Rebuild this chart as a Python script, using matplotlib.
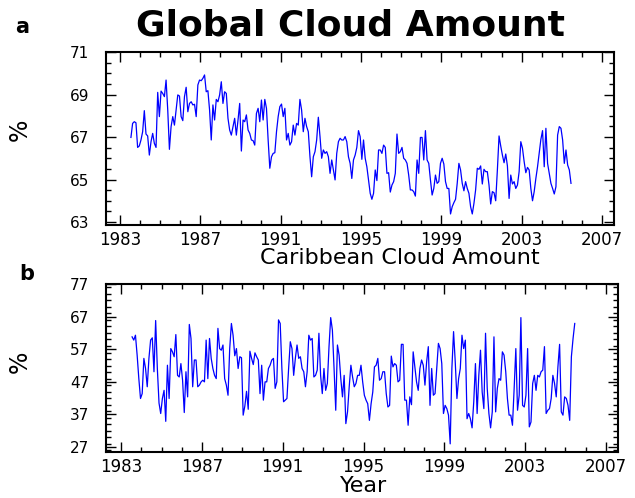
import numpy as np
import matplotlib.pyplot as plt
from matplotlib.ticker import MultipleLocator

# monthly means, July 1983 - June 2005
global_cloud = [
    66.98, 67.64, 67.72, 67.67, 66.51, 66.58, 66.86, 67.25, 68.24, 67.14,
    67.05, 66.15, 66.78, 67.17, 66.70, 66.51, 69.10, 67.96, 69.16, 69.05,
    68.90, 69.68, 68.27, 66.42, 67.49, 67.96, 67.56, 68.27, 68.98, 68.93,
    67.96, 67.77, 68.90, 69.34, 68.19, 68.58, 68.66, 68.51, 68.54, 67.96,
    69.45, 69.68, 69.65, 69.76, 69.92, 69.13, 69.18, 68.27, 66.86, 68.51,
    67.80, 68.77, 68.66, 68.98, 69.60, 68.58, 69.13, 69.05, 67.88, 67.33,
    67.09, 67.49, 67.88, 67.09, 67.80, 68.58, 66.34, 67.80, 67.72, 68.04,
    67.33, 67.17, 66.86, 66.83, 66.62, 68.11, 68.35, 67.72, 68.74, 67.80,
    68.77, 68.35, 66.86, 65.53,
    66.07, 66.23, 66.26, 67.25, 67.96, 68.43, 68.55, 67.96, 68.35, 66.86,
    67.17, 66.62, 66.78, 67.56, 67.09, 67.64, 67.56, 68.77, 68.27, 67.25,
    67.88, 67.49, 67.25, 66.07, 65.13, 66.07, 66.31, 66.86, 67.93, 67.02,
    66.00, 66.39, 66.23, 66.31, 66.07, 65.29, 65.92, 65.45, 64.98, 66.23,
    66.78, 66.94, 66.86, 66.86, 67.02, 66.78, 66.07, 65.76, 65.05, 65.92,
    66.15, 66.51, 67.30, 67.02, 65.95, 66.86, 66.00, 65.60, 64.98, 64.35,
    64.07, 64.35, 65.45, 64.95, 66.39, 66.39, 66.23, 66.62, 66.51, 65.29,
    65.32, 64.41, 64.74, 64.90, 65.29, 67.14, 66.23, 66.31, 66.51, 66.00,
    65.92, 65.76, 65.21, 64.51, 64.51, 64.43, 64.22, 65.92, 65.29, 66.98,
    66.98, 65.92, 67.30, 65.92, 65.76, 64.98, 64.27, 64.58, 65.21, 64.82,
    64.90, 65.76,
    66.00, 65.73, 64.90, 64.58, 64.58, 63.38, 63.72, 63.91, 64.07, 64.82,
    65.76, 65.45, 64.82, 64.47, 64.90, 64.58, 64.35, 63.72, 63.38, 63.88,
    64.51, 65.53, 65.48, 65.64, 64.79, 65.48, 65.37, 65.37, 64.74, 63.85,
    64.43, 64.38, 64.00, 65.45, 67.05, 66.58, 66.15, 65.79, 66.20, 65.64,
    64.11, 65.21, 64.79, 64.90, 64.58, 64.74, 65.37, 66.78, 66.47, 65.84,
    65.32, 65.57, 65.45, 64.58, 64.00, 64.43, 65.05, 65.60, 66.23, 66.89,
    67.30, 65.60, 67.41, 65.76, 65.29, 64.82, 64.58, 64.32, 64.66, 67.09,
    67.49, 67.41, 66.86, 65.76, 66.39, 65.68, 65.45, 64.82,
]

caribbean_cloud = [
    60.8, 59.8, 61.3, 55.2, 48.0, 41.9, 43.4, 54.2, 51.1, 45.5,
    54.2, 59.8, 60.5, 50.1, 65.8, 51.1, 40.5, 37.3, 41.9, 44.4,
    34.9, 52.1, 41.9, 57.2, 56.2, 54.7, 61.5, 49.0, 48.5, 52.6,
    47.5, 37.6, 50.1, 42.4, 64.6, 60.3, 45.5, 53.7, 53.7, 45.5,
    46.0, 47.0, 47.5, 47.0, 59.8, 48.0, 60.3, 54.2, 51.1, 49.0,
    48.0, 63.4, 57.2, 56.7, 58.3, 48.0, 46.0, 42.9, 57.2, 64.9,
    61.3, 55.0, 57.2, 51.1, 54.7, 54.4, 36.8, 39.6, 44.1, 38.6,
    56.4, 54.2, 52.3, 55.9, 54.7, 53.7, 43.4, 52.1, 41.4, 47.0,
    47.0, 51.1, 52.1,
    53.7, 54.2, 45.0, 47.0, 66.0, 64.9, 51.1, 40.9, 41.4, 41.9,
    51.1, 59.3, 57.2, 49.0, 54.2, 58.3, 54.2, 54.7, 51.1, 50.1,
    45.5, 50.1, 61.3, 59.8, 60.3, 48.5, 49.0, 50.6, 61.9, 49.0,
    43.4, 51.1, 44.4, 46.5, 57.8, 66.7, 62.9, 51.1, 38.3, 58.3,
    55.2, 48.0, 42.4, 49.0, 34.2, 37.8, 45.5, 52.1, 48.5, 45.5,
    46.5, 49.0, 49.0, 52.1, 47.0, 42.9, 41.4, 40.3, 35.2, 40.3,
    43.9, 51.6, 52.1, 54.2, 47.5, 48.0, 50.1, 50.1, 43.4, 39.3,
    39.8, 54.9, 51.6, 52.6, 52.1, 47.0, 47.5, 58.5, 58.5, 41.4,
    41.4, 33.7, 42.4, 40.0, 56.2, 51.6, 47.0, 44.4, 51.1, 53.7,
    52.1, 46.0, 53.1, 57.8, 39.8, 51.1, 42.9, 43.4, 51.1, 58.8,
    57.2, 52.6,
    37.3, 39.8, 38.8, 36.8, 28.0, 51.1, 62.4, 53.1, 41.9, 48.0,
    51.1, 61.3, 57.2, 59.8, 35.7, 37.3, 35.7, 32.9, 40.9, 52.6,
    37.3, 49.0, 56.7, 43.9, 38.8, 61.9, 45.0, 37.3, 32.9, 37.8,
    60.8, 37.8, 45.0, 48.0, 47.5, 56.2, 55.2, 50.1, 41.9, 36.8,
    36.8, 33.7, 45.0, 57.2, 38.3, 42.9, 66.7, 39.8, 39.3, 42.9,
    57.2, 33.2, 34.7, 46.5, 49.0, 44.4, 49.0, 48.5, 50.1, 50.6,
    57.8, 37.3, 38.3, 38.8, 41.9, 49.0, 46.5, 42.4, 51.6, 58.5,
    37.8, 36.8, 42.4, 41.9, 39.8, 35.2, 54.7, 60.3, 64.9,
]

year_ticks = [1983, 1987, 1991, 1995, 1999, 2003, 2007]
global_yticks = [63, 65, 67, 69, 71]
carib_yticks = [27, 37, 47, 57, 67, 77]

# time axis: mid-month, starting July 1983
t_global = 1983 + (6.5 + np.arange(len(global_cloud))) / 12
t_carib = 1983 + (6.5 + np.arange(len(caribbean_cloud))) / 12

W, H = 635, 498
fig = plt.figure(figsize=(W / 100, H / 100), dpi=100)

def px(x, y):
    return x / W, 1 - y / H

def style(ax, yticks, yminor):
    ax.set_xticks(year_ticks)
    ax.set_yticks(yticks)
    ax.xaxis.set_minor_locator(MultipleLocator(1))
    ax.yaxis.set_minor_locator(MultipleLocator(yminor))
    ax.tick_params(which="both", direction="in", top=True, right=True, width=1)
    ax.tick_params(which="major", length=7)
    ax.tick_params(which="minor", length=3.5)
    ax.tick_params(axis="x", labelsize=12, pad=4)
    ax.tick_params(axis="y", labelsize=11, pad=12)
    for s in ax.spines.values():
        s.set_linewidth(1.5)

ax1 = fig.add_axes([106 / W, 1 - 225 / H, (614 - 106) / W, (225 - 52) / H])
ax1.plot(t_global, global_cloud, color="#0000ff", lw=0.9)
ax1.set_xlim(1982.3, 2007.6)
ax1.set_ylim(62.86, 71)
style(ax1, global_yticks, 0.5)

ax2 = fig.add_axes([106 / W, 1 - 452 / H, (618 - 106) / W, (452 - 284) / H])
ax2.plot(t_carib, caribbean_cloud, color="#0000ff", lw=0.9)
ax2.set_xlim(1982.25, 2007.6)
ax2.set_ylim(25.5, 77)
style(ax2, carib_yticks, 2)

fig.text(*px(351, 25), "Global Cloud Amount", ha="center", va="center",
         fontsize=26, fontweight="bold")
fig.text(*px(400, 258), "Caribbean Cloud Amount", ha="center", va="center",
         fontsize=16)
fig.text(*px(364, 486), "Year", ha="center", va="center", fontsize=16)
fig.text(*px(22, 27), "a", ha="center", va="center", fontsize=15, fontweight="bold")
fig.text(*px(27, 274), "b", ha="center", va="center", fontsize=15, fontweight="bold")
fig.text(*px(20, 130), "%", ha="center", va="center", fontsize=17, rotation=90)
fig.text(*px(20, 362), "%", ha="center", va="center", fontsize=17, rotation=90)

fig.savefig("out.png", dpi=100)
